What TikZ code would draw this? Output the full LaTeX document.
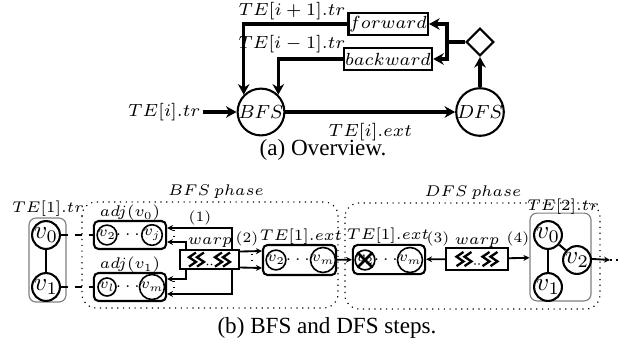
\documentclass[tikz,border=0pt]{standalone}
\usepackage{fix-cm}
\usepackage{fontspec}
\setmainfont{Liberation Serif}
\usepackage{amsmath}
\usetikzlibrary{positioning,shapes.geometric,calc,arrows.meta}

% zigzag glyphs of a warp box
\newcommand{\warpglyphs}[1]{%
  \foreach \dx in {-17,-9,9,17}
    \draw[line width=1pt] ($(#1)+(\dx,0)+(3.5,-7)$) -- ++(-7,4.7) -- ++(7,4.7) -- ++(-7,4.7);
  \fill ($(#1)+(-2,5)$) circle (0.35pt) ($(#1)+(2,5)$) circle (0.35pt);
}

\begin{document}
\begin{tikzpicture}[x=0.4327pt, y=-0.4327pt, font=\fontsize{7.6}{9}\selectfont,
    bigc/.style={draw, circle, line width=0.9pt, minimum size=20pt, inner sep=0pt, font=\fontsize{8.2}{9}\selectfont},
    opbox/.style={draw, line width=1.1pt, minimum width=33pt, minimum height=9.5pt, inner sep=0.4pt},
    fat/.style={line width=1.5pt, -{Stealth[length=4.6pt, width=5pt]}},
    small/.style={font=\fontsize{6.7}{8}\selectfont, inner sep=1pt},
    stepno/.style={font=\fontsize{6.2}{7}\selectfont, inner sep=1pt},
    vbig/.style={draw, circle, line width=0.9pt, minimum size=11.7pt, inner sep=0pt, font=\fontsize{11}{12}\selectfont},
    vsmall/.style={draw, circle, line width=0.7pt, minimum size=7.6pt, inner sep=0pt, font=\fontsize{6.5}{7}\selectfont},
    listbox/.style={draw, rounded corners=2pt, line width=0.9pt, inner sep=0pt},
    warpbox/.style={draw, line width=0.9pt, inner sep=0pt},
    group/.style={draw=gray, rounded corners=3pt, line width=0.5pt, inner sep=0pt},
    phase/.style={dotted, rounded corners=6pt, line width=0.5pt},
    arr/.style={line width=0.8pt, -{Stealth[length=2.6pt, width=2.6pt]}},
    caption/.style={font=\fontsize{10}{12}\selectfont}]
\useasboundingbox (0,0) rectangle (624,350);

% (a) overview
\node[bigc] (bfs) at (261,112) {$BFS$};
\node[bigc] (dfs) at (480,112) {$DFS$};
\node[draw, diamond, line width=0.9pt, minimum size=12pt, inner sep=0pt] (sel) at (480,42) {};
\node[opbox] (fwd) at (388,24) {$forward$};
\node[opbox] (bwd) at (388,59) {$backward$};
\node[anchor=east, inner sep=1pt] (lfwd) at (348,11) {$TE[i+1].tr$};
\node[anchor=east, inner sep=1pt] (lbwd) at (348,44) {$TE[i-1].tr$};
\node[anchor=east, inner sep=1pt] (in) at (203,112) {$TE[i].tr$};
\coordinate (split) at (447,42);

\draw[line width=1.5pt] (sel.west) -- (split);
\draw[fat] (split) |- (fwd.east);
\draw[fat] (split) |- (bwd.east);
\draw[fat] (fwd.west) -| (bfs.135);
\draw[fat] (bwd.west) -| (bfs.45);
\draw[fat] (in.east) -- (bfs.west);
\draw[fat] (bfs) -- node[below=1pt] {$TE[i].ext$} (dfs);
\draw[fat] (dfs) -- (sel);

\node[caption] (capa) at (323,150) {(a) Overview.};

% (b) phases
\draw[phase] (82,202) rectangle (338,308);
\draw[phase] (345,203) rectangle (600,309);
\node[small] (lbfs) at (216,192) {$BFS\ phase$};
\node[small] (ldfs) at (473,193) {$DFS\ phase$};

% TE[1].tr
\node[group, minimum width=16pt, minimum height=36.3pt] (tr1) at (47.5,260) {};
\node[small] (ltr1) at (48,209) {$TE[1].tr$};
\node[vbig] (a0) at (46,235) {$v_0$};
\node[vbig] (a1) at (46,287) {$v_1$};
\draw[line width=0.9pt] (a0) -- (a1);

% adjacency lists
\node[listbox, minimum width=31.2pt, minimum height=12.1pt] (adj0) at (130,235) {};
\node[listbox, minimum width=31.2pt, minimum height=12.1pt] (adj1) at (130,287) {};
\node[small] (ladj0) at (130,213) {$adj(v_0)$};
\node[small] (ladj1) at (130,265) {$adj(v_1)$};
\node[vsmall] (n02) at (107,235) {$v_2$};
\node[vsmall] (n0j) at (152,235) {$v_j$};
\node[vsmall] (n1l) at (107,287) {$v_l$};
\node[vsmall] (n1m) at (152,287) {$v_m$};
\node[small] at (129.5,235) {$\cdots$};
\node[small] at (129.5,287) {$\cdots$};
\draw[dashed, line width=0.9pt] (a0) -- (adj0);
\draw[dashed, line width=0.9pt] (a1) -- (adj1);

% BFS warp
\node[warpbox, minimum width=25.5pt, minimum height=8.2pt] (wb) at (209.5,259.5) {};
\node[small] (lwb) at (210,243) {$warp$};
\warpglyphs{wb}
\draw[arr] ($(wb.north east)+(-8,0)$) |- ($(adj0.east)+(0,-7)$);
\draw[arr] ($(wb.north west)+(7,0)$) |- ($(adj0.east)+(0,7)$);
\draw[arr] ($(wb.south west)+(7,0)$) |- ($(adj1.east)+(0,-8)$);
\draw[arr] ($(wb.south east)+(-8,0)$) |- ($(adj1.east)+(0,7)$);
\draw[dotted, line width=0.6pt] (174,230) -- (174,241);
\draw[dotted, line width=0.6pt] (174,281) -- (174,292);
\node[stepno] (l1) at (200,218) {$(1)$};

% TE[1].ext after BFS
\node[listbox, minimum width=31.6pt, minimum height=13pt] (ext1) at (299.5,260) {};
\node[small] (lext1) at (301,237) {$TE[1].ext$};
\node[vsmall] (e12) at (276,260) {$v_2$};
\node[vsmall] (e1m) at (323,260) {$v_m$};
\node[small] at (299.5,260) {$\cdots$};
\draw[arr] ($(wb.east)+(0,-8)$) -- ($(ext1.west)+(0,-9)$);
\draw[arr] ($(wb.east)+(0,8)$) -- ($(ext1.west)+(0,8)$);
\draw[dotted, line width=0.6pt] (252,254) -- (252,265);
\node[stepno] (l2) at (247,239) {$(2)$};

% TE[1].ext in DFS
\node[listbox, minimum width=31.2pt, minimum height=12.6pt] (ext2) at (389,259.5) {};
\node[small] (lext2) at (388,236) {$TE[1].ext$};
\node[vsmall] (e22) at (365,260) {$v_2$};
\node[vsmall] (e2m) at (410,260) {$v_m$};
\node[small] at (387.5,260) {$\cdots$};
\draw[line width=1.1pt] (e22.45) -- (e22.225) (e22.135) -- (e22.315);
\draw[arr] (ext1) -- (ext2);

% DFS warp
\node[warpbox, minimum width=26.8pt, minimum height=9.5pt] (wd) at (477,259) {};
\node[small] (lwd) at (477,243) {$warp$};
\warpglyphs{wd}
\draw[arr] (wd) -- (ext2);
\node[stepno] (l3) at (438,239) {$(3)$};

% TE[2].tr
\node[group, minimum width=26.4pt, minimum height=38pt] (tr2) at (560.5,257) {};
\node[small] (ltr2) at (563,207) {$TE[2].tr$};
\node[vbig] (b0) at (548,235) {$v_0$};
\node[vbig] (b2) at (577,260) {$v_2$};
\node[vbig] (b1) at (548,287) {$v_1$};
\draw[line width=0.9pt] (b0) -- (b1);
\draw[line width=0.9pt] (b0) -- (b2);
\draw[arr] (wd) -- (tr2);
\node[stepno] (l4) at (518,239) {$(4)$};
\coordinate (out) at (610,260);
\draw[arr] (tr2) -- (out);
\draw[dotted, line width=0.8pt] (out) -- (622,260);

\node[caption] (capb) at (327,328) {(b) BFS and DFS steps.};
\end{tikzpicture}
\end{document}
